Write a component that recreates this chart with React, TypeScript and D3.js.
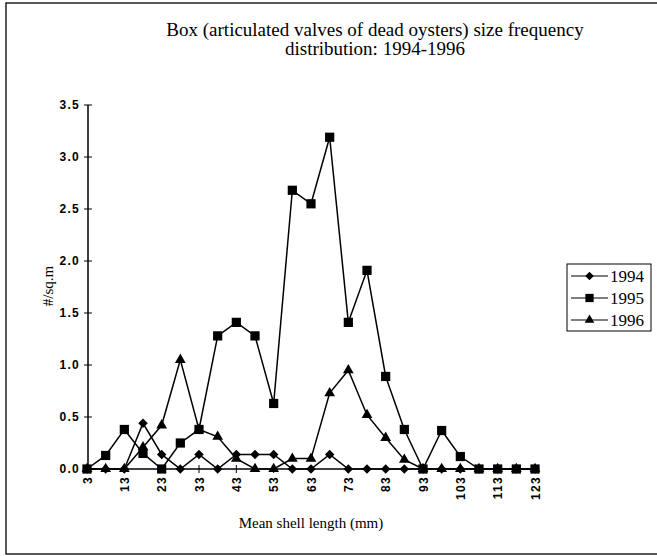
import * as React from 'react';
import { useRef, useEffect } from 'react';
import * as d3 from 'd3';

// shell length classes (mm)
const lengths = ['3', '8', '13', '18', '23', '28', '33', '38', '43', '48', '53', '58', '63', '68', '73', '78', '83', '88', '93', '98', '103', '108', '113', '118', '123'];
const tickLabels = ['3', '13', '23', '33', '43', '53', '63', '73', '83', '93', '103', '113', '123'];
const yTicks = [0, 0.5, 1, 1.5, 2, 2.5, 3, 3.5];

const v1994 = [0, 0, 0, 0.44, 0.14, 0, 0.14, 0, 0.14, 0.14, 0.14, 0, 0, 0.14, 0, 0, 0, 0, 0, 0, 0, 0, 0, 0, 0];
const v1995 = [0, 0.13, 0.38, 0.15, 0, 0.25, 0.38, 1.28, 1.41, 1.28, 0.63, 2.68, 2.55, 3.19, 1.41, 1.91, 0.89, 0.38, 0, 0.37, 0.12, 0, 0, 0, 0];
const v1996 = [0, 0, 0, 0.21, 0.42, 1.05, 0.38, 0.31, 0.1, 0, 0, 0.1, 0.1, 0.73, 0.95, 0.52, 0.3, 0.09, 0, 0, 0, 0, 0, 0, 0];

// square turned 45deg, like the old Excel diamond marker
const squareDiamond: d3.SymbolType = {
  draw(ctx, size) {
    const r = Math.sqrt(size / 2);
    ctx.moveTo(0, -r);
    ctx.lineTo(r, 0);
    ctx.lineTo(0, r);
    ctx.lineTo(-r, 0);
    ctx.closePath();
  },
};

const series = [
  { name: '1994', values: v1994, symbol: squareDiamond, size: 45 },
  { name: '1996', values: v1996, symbol: d3.symbolTriangle, size: 50 },
  { name: '1995', values: v1995, symbol: d3.symbolSquare, size: 85 },
];
const legendOrder = ['1994', '1995', '1996'];

export default function App() {
  const ref = useRef<SVGSVGElement>(null);
  const width = 657;
  const height = 556;

  useEffect(() => {
    if (!ref.current) return;
    const svg = d3.select(ref.current);
    svg.selectAll('*').remove();

    const x = d3.scalePoint<string>().domain(lengths).range([87, 535]);
    const y = d3.scaleLinear().domain([0, 3.5]).range([469, 105]);

    // outer frame
    svg.append('path')
      .attr('d', `M${width + 2},3 H6 V554 H${width + 2}`)
      .attr('fill', 'none')
      .attr('stroke', '#222')
      .attr('stroke-width', 1.5);

    const serif = 'Liberation Serif, Times New Roman, serif';
    const sans = 'Liberation Sans, Arial, sans-serif';

    svg.append('text')
      .attr('x', 375).attr('y', 36)
      .attr('text-anchor', 'middle')
      .attr('font-family', serif).attr('font-size', 19)
      .text('Box (articulated valves of dead oysters) size frequency');
    svg.append('text')
      .attr('x', 375).attr('y', 55)
      .attr('text-anchor', 'middle')
      .attr('font-family', serif).attr('font-size', 19)
      .text('distribution: 1994-1996');

    // y axis
    const yAxis = svg.append('g');
    yAxis.append('line')
      .attr('x1', 88).attr('x2', 88)
      .attr('y1', y(3.5)).attr('y2', y(0))
      .attr('stroke', '#000').attr('stroke-width', 1.5);
    yAxis.selectAll('.yt')
      .data(yTicks)
      .join('line')
      .attr('x1', 84).attr('x2', 92)
      .attr('y1', (d) => y(d)).attr('y2', (d) => y(d))
      .attr('stroke', '#000').attr('stroke-width', 1);
    yAxis.selectAll('.yl')
      .data(yTicks)
      .join('text')
      .attr('x', 80).attr('y', (d) => y(d) + 4)
      .attr('text-anchor', 'end')
      .attr('font-family', sans).attr('font-size', 12).attr('font-weight', 'bold')
      .attr('letter-spacing', 1.3)
      .text((d) => d.toFixed(1));

    // x axis
    const xAxis = svg.append('g');
    xAxis.append('line')
      .attr('x1', x('3')!).attr('x2', x('123')!)
      .attr('y1', y(0)).attr('y2', y(0))
      .attr('stroke', '#000').attr('stroke-width', 1.5);
    xAxis.selectAll('.xt')
      .data(tickLabels)
      .join('line')
      .attr('x1', (d) => x(d)!).attr('x2', (d) => x(d)!)
      .attr('y1', y(0) - 4).attr('y2', y(0) + 4)
      .attr('stroke', '#000').attr('stroke-width', 1);
    xAxis.selectAll('.xl')
      .data(tickLabels)
      .join('text')
      .attr('transform', (d) => `translate(${x(d)! + 4.5},476) rotate(-90)`)
      .attr('text-anchor', 'end')
      .attr('font-family', sans).attr('font-size', 12).attr('font-weight', 'bold')
      .attr('letter-spacing', 1.3)
      .text((d) => d);

    svg.append('text')
      .attr('transform', 'translate(53,286) rotate(-90)')
      .attr('text-anchor', 'middle')
      .attr('font-family', serif).attr('font-size', 15)
      .text('#/sq.m');
    svg.append('text')
      .attr('x', 311).attr('y', 528)
      .attr('text-anchor', 'middle')
      .attr('font-family', serif).attr('font-size', 15)
      .text('Mean shell length (mm)');

    // series
    const line = d3.line<number>()
      .x((_, i) => x(lengths[i])!)
      .y((d) => y(d));

    series.forEach((s) => {
      const g = svg.append('g');
      g.append('path')
        .datum(s.values)
        .attr('fill', 'none')
        .attr('stroke', '#000')
        .attr('stroke-width', 1.5)
        .attr('d', line);
      g.selectAll('path.m')
        .data(s.values)
        .join('path')
        .attr('class', 'm')
        .attr('transform', (d, i) => `translate(${x(lengths[i])},${y(d)})`)
        .attr('d', d3.symbol(s.symbol, s.size)())
        .attr('fill', '#000');
    });

    // legend
    const lg = svg.append('g');
    lg.append('rect')
      .attr('x', 567).attr('y', 264)
      .attr('width', 84).attr('height', 67)
      .attr('fill', '#fff').attr('stroke', '#000').attr('stroke-width', 1);
    legendOrder.forEach((name, i) => {
      const s = series.find((d) => d.name === name)!;
      const cy = 276 + i * 22;
      lg.append('line')
        .attr('x1', 571).attr('x2', 608)
        .attr('y1', cy).attr('y2', cy)
        .attr('stroke', '#000').attr('stroke-width', 1.2);
      lg.append('path')
        .attr('transform', `translate(589.5,${cy})`)
        .attr('d', d3.symbol(s.symbol, s.size * 0.8)())
        .attr('fill', '#000');
      lg.append('text')
        .attr('x', 610).attr('y', cy + 6)
        .attr('font-family', serif).attr('font-size', 17)
        .text(name);
    });
  }, []);

  return (
    <svg
      ref={ref}
      width={width}
      height={height}
      style={{ position: 'absolute', left: 0, top: 0, background: '#fff' }}
    />
  );
}
